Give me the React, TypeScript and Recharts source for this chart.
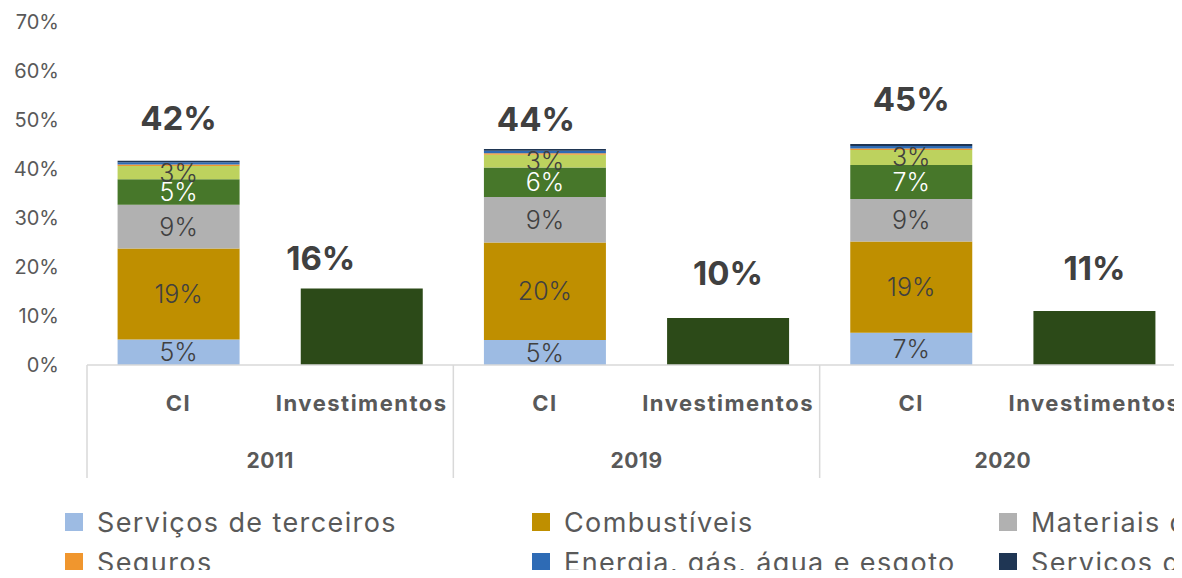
import React from 'react';
import { BarChart, Bar, XAxis, YAxis, Legend, LabelList } from 'recharts';

// ---- data ----
const years = ['2011', '2019', '2020'];
const groupLabels = ['CI', 'Investimentos'];
const servicosTerceiros = [5.2, 5.1, 6.6];
const combustiveis = [18.6, 19.9, 18.6];
const materiais = [8.9, 9.3, 8.7];
const alugueis = [5.2, 6.0, 6.9];
const outros = [2.7, 2.6, 3.1];
const seguros = [0.3, 0.3, 0.3];
const energia = [0.5, 0.5, 0.5];
const servicosDe = [0.3, 0.4, 0.4];
const investimentos = [15.6, 9.6, 11.0];
const yTicks = [0, 10, 20, 30, 40, 50, 60, 70];

// ---- series definitions ----
const ciSeries = [
  { key: 'st', name: 'Serviços de terceiros', values: servicosTerceiros, color: '#9DBBE3', label: '#404040' },
  { key: 'cb', name: 'Combustíveis', values: combustiveis, color: '#BF8F00', label: '#404040' },
  { key: 'mt', name: 'Materiais de consumo', values: materiais, color: '#B1B1B1', label: '#404040' },
  { key: 'al', name: 'Aluguéis', values: alugueis, color: '#47772A', label: '#FFFFFF' },
  { key: 'ot', name: 'Outros', values: outros, color: '#BDD25E', label: '#404040' },
  { key: 'sg', name: 'Seguros', values: seguros, color: '#F0962E', label: null },
  { key: 'en', name: 'Energia, gás, água e esgoto', values: energia, color: '#2E6BB5', label: null },
  { key: 'sd', name: 'Serviços de comunicação', values: servicosDe, color: '#1F3654', label: null },
];
const invSeries = { key: 'inv', name: 'Investimentos', values: investimentos, color: '#2C4A18' };

const legendOrder = ['st', 'cb', 'mt', 'al', 'sg', 'en', 'sd', 'ot', 'inv'];

// style: nudges of the total labels (pixels), per year
const ciTotalNudge = [
  { dx: 0, dy: -43 },
  { dx: -9, dy: -30 },
  { dx: 0, dy: -45 },
];
const invTotalNudge = [
  { dx: -41, dy: -31 },
  { dx: 0, dy: -45 },
  { dx: 0, dy: -43 },
];

// ---- table ----
const table: any[] = [];
years.forEach((yr, yi) => {
  const ci: any = { cat: groupLabels[0], year: yr, invTotal: null };
  let sum = 0;
  ciSeries.forEach((s) => {
    ci[s.key] = s.values[yi];
    sum += s.values[yi];
  });
  ci.inv = null;
  ci.ciTotal = sum;
  table.push(ci);
  const inv: any = { cat: groupLabels[1], year: yr, ciTotal: null, inv: investimentos[yi], invTotal: investimentos[yi] };
  ciSeries.forEach((s) => { inv[s.key] = null; });
  table.push(inv);
});

// ---- layout ----
const FONT = 'Inter, "Open Sans", sans-serif';
const W = 1200;
const H = 640;
const TOP = 22;
const PLOT_LEFT = 87;
const RIGHT_MARGIN = 14;
const PLOT_H = 343;
const X_AXIS_H = 113;
const AXIS_Y = TOP + PLOT_H;
const SLOT = (W - RIGHT_MARGIN - PLOT_LEFT) / table.length;
const GRID = '#D9D9D9';

const XTick = (props: any) => {
  const { x, payload } = props;
  const i = payload.index;
  const first = i % 2 === 0;
  return (
    <g>
      <text x={x} y={AXIS_Y + 46} textAnchor="middle" fill="#595959" fontFamily={FONT} fontWeight={700} fontSize={22} letterSpacing={1.5}>
        {payload.value}
      </text>
      {first && (
        <text x={x + SLOT / 2} y={AXIS_Y + 103} textAnchor="middle" fill="#595959" fontFamily={FONT} fontWeight={700} fontSize={21} letterSpacing={0.5}>
          {table[i].year}
        </text>
      )}
      {first && <line x1={x - SLOT / 2} x2={x - SLOT / 2} y1={AXIS_Y} y2={AXIS_Y + X_AXIS_H} stroke={GRID} strokeWidth={1.5} />}
      {i === table.length - 1 && (
        <line x1={x + SLOT / 2} x2={x + SLOT / 2} y1={AXIS_Y} y2={AXIS_Y + X_AXIS_H} stroke={GRID} strokeWidth={1.5} />
      )}
    </g>
  );
};

const segLabel = (color: string) => (props: any) => {
  const { x, y, width, height, value } = props;
  if (value == null || height == null) return null;
  return (
    <text x={x + width / 2} y={y + height / 2} textAnchor="middle" dominantBaseline="central" fill={color} fontFamily={FONT} fontWeight={300} fontSize={25}>
      {Math.round(value) + '%'}
    </text>
  );
};

const totalLabel = (nudges: { dx: number; dy: number }[]) => (props: any) => {
  const { x, y, width, value, index } = props;
  if (value == null) return null;
  const n = nudges[index] || { dx: 0, dy: -38 };
  return (
    <text x={x + width / 2 + n.dx} y={y + n.dy} textAnchor="middle" dominantBaseline="central" fill="#404040" fontFamily={FONT} fontWeight={700} fontSize={33}>
      {Math.round(value) + '%'}
    </text>
  );
};

const allSeries = [...ciSeries, invSeries];

const LegendContent = () => (
  <div style={{ display: 'grid', gridTemplateColumns: 'repeat(4, 467px)', fontFamily: FONT, fontSize: 27, letterSpacing: 1.4, color: '#595959' }}>
    {legendOrder.map((k) => {
      const s = allSeries.find((q) => q.key === k)!;
      return (
        <div key={k} style={{ display: 'flex', alignItems: 'center', height: 40, whiteSpace: 'nowrap' }}>
          <span style={{ display: 'inline-block', width: 18, height: 18, background: s.color, marginRight: 14, flex: 'none' }} />
          <span>{s.name}</span>
        </div>
      );
    })}
  </div>
);

export default function App() {
  return (
    <div style={{ margin: -8, width: 1182, height: 578, overflow: 'hidden', position: 'relative', background: '#fff' }}>
      <BarChart
        width={W}
        height={H}
        data={table}
        margin={{ top: TOP, right: RIGHT_MARGIN, left: 0, bottom: H - TOP - PLOT_H - X_AXIS_H }}
        barCategoryGap="16.7%"
      >
        <XAxis dataKey="cat" axisLine={{ stroke: GRID, strokeWidth: 1.5 }} tickLine={false} height={X_AXIS_H} tick={<XTick />} interval={0} />
        <YAxis
          width={PLOT_LEFT}
          domain={[0, 70]}
          ticks={yTicks}
          tickFormatter={(v: number) => v + '%'}
          axisLine={false}
          tickLine={false}
          tickMargin={22}
          tick={{ fill: '#595959', fontSize: 20, fontFamily: FONT }}
        />
        {ciSeries.map((s, si) => (
          <Bar key={s.key} dataKey={s.key} name={s.name} stackId="a" fill={s.color} isAnimationActive={false}>
            {s.label && <LabelList dataKey={s.key} content={segLabel(s.label)} />}
            {si === ciSeries.length - 1 && <LabelList dataKey="ciTotal" content={totalLabel(ciTotalNudge)} />}
          </Bar>
        ))}
        <Bar dataKey="inv" name={invSeries.name} stackId="a" fill={invSeries.color} isAnimationActive={false}>
          <LabelList dataKey="invTotal" content={totalLabel(invTotalNudge)} />
        </Bar>
        <Legend
          verticalAlign="middle"
          align="center"
          layout="horizontal"
          wrapperStyle={{ top: 502, left: 65, width: 1900 }}
          content={<LegendContent />}
        />
      </BarChart>
    </div>
  );
}
